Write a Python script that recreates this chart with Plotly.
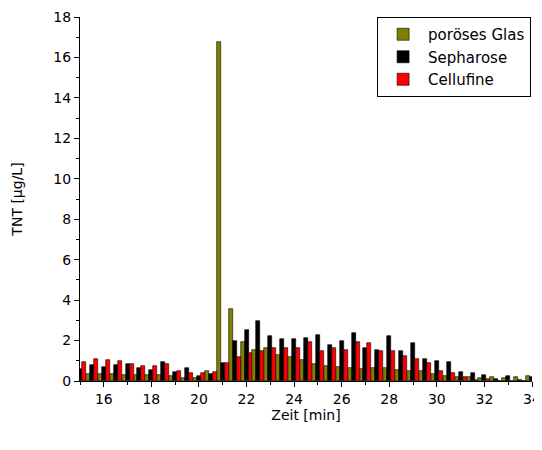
import plotly.graph_objects as go

zeit = [15.0, 15.5, 16.0, 16.5, 17.0, 17.5, 18.0, 18.5, 19.0, 19.5, 20.0, 20.5,
        21.0, 21.5, 22.0, 22.5, 23.0, 23.5, 24.0, 24.5, 25.0, 25.5, 26.0, 26.5,
        27.0, 27.5, 28.0, 28.5, 29.0, 29.5, 30.0, 30.5, 31.0, 31.5, 32.0, 32.5,
        33.0, 33.5, 34.0]

glas = [0.30, 0.35, 0.35, 0.35, 0.32, 0.30, 0.28, 0.28, 0.25, 0.17, 0.17, 0.51,
        16.75, 3.56, 1.91, 1.55, 1.62, 1.27, 1.20, 1.04, 0.83, 0.76, 0.69, 0.64,
        0.58, 0.63, 0.63, 0.54, 0.49, 0.48, 0.33, 0.25, 0.20, 0.21, 0.16, 0.18,
        0.16, 0.20, 0.23]

sepharose = [0.60, 0.80, 0.70, 0.80, 0.86, 0.63, 0.55, 0.94, 0.46, 0.66, 0.26, 0.33,
             0.87, 1.98, 2.50, 2.97, 2.23, 2.06, 2.06, 2.14, 2.27, 1.76, 1.96, 2.36,
             1.62, 1.53, 2.23, 1.47, 1.90, 1.07, 0.99, 0.92, 0.43, 0.40, 0.28, 0.10,
             0.26, 0.04, 0.20]

cellufine = [0.92, 1.07, 1.03, 1.00, 0.86, 0.76, 0.72, 0.86, 0.50, 0.41, 0.41, 0.45,
             0.89, 1.19, 1.38, 1.48, 1.65, 1.62, 1.62, 1.91, 1.50, 1.62, 1.52, 1.94,
             1.86, 1.48, 1.48, 1.22, 1.09, 0.87, 0.49, 0.41, 0.18, 0.05, 0.08, 0.02,
             0.0, 0.0, 0.0]

x_ticks = [16, 18, 20, 22, 24, 26, 28, 30, 32, 34]
y_ticks = [0, 2, 4, 6, 8, 10, 12, 14, 16, 18]

font = "DejaVu Sans"

fig = go.Figure()
for name, vals, col in [("poröses Glas", glas, "#808000"),
                        ("Sepharose", sepharose, "#000000"),
                        ("Cellufine", cellufine, "#FF0000")]:
    fig.add_trace(go.Bar(x=zeit, y=vals, name=name,
                         marker=dict(color=col, line=dict(color="#000000", width=0.6))))

fig.update_layout(
    width=534, height=442,
    margin=dict(l=72, r=10, t=9, b=69, autoexpand=False),
    barmode="group", bargap=0, bargroupgap=0,
    paper_bgcolor="white", plot_bgcolor="white",
    font=dict(family=font, size=14, color="#000000"),
    showlegend=True,
    legend=dict(x=0.998, y=1.0, xanchor="right", yanchor="top",
                bordercolor="#000000", borderwidth=1, bgcolor="white",
                font=dict(family=font, size=15), tracegroupgap=0,
                itemwidth=40),
    xaxis=dict(range=[15, 34], tickvals=x_ticks, ticktext=[str(v) for v in x_ticks],
               showgrid=False, zeroline=False, showline=True, linecolor="#000000",
               linewidth=1, ticks="outside", ticklen=5, tickcolor="#000000",
               minor=dict(dtick=1, ticks="outside", ticklen=3, tickcolor="#000000"),
               title=dict(text="Zeit [min]", font=dict(family=font, size=14), standoff=2),
               tickfont=dict(family=font, size=14), automargin=False),
    yaxis=dict(range=[0, 18], tickvals=y_ticks, ticktext=[str(v) for v in y_ticks],
               showgrid=False, zeroline=False, showline=True, linecolor="#000000",
               linewidth=1, ticks="outside", ticklen=5, tickcolor="#000000",
               minor=dict(dtick=1, ticks="outside", ticklen=3, tickcolor="#000000"),
               title=dict(text="TNT [µg/L]", font=dict(family=font, size=14), standoff=27),
               tickfont=dict(family=font, size=14), automargin=False),
)

fig.write_html("out.html")
